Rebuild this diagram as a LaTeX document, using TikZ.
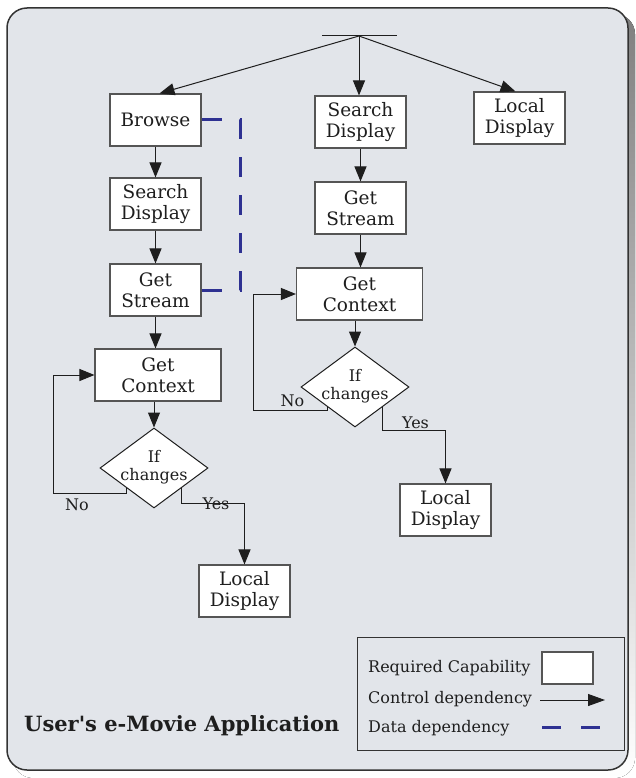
\documentclass[tikz,border=0pt]{standalone}
\usepackage{fontspec}
\setmainfont{DejaVu Serif}
\usetikzlibrary{shapes.geometric,arrows.meta}
\definecolor{panel}{HTML}{E2E5EA}
\definecolor{shade}{HTML}{7D868E}
\definecolor{frame}{HTML}{333333}
\definecolor{boxline}{HTML}{555555}
\definecolor{ink}{HTML}{1E1E1E}
\definecolor{datablue}{HTML}{2E3192}
\begin{document}
\begin{tikzpicture}[x=1pt,y=-1pt,
  capbox/.style={draw=boxline, line width=1.1pt, fill=white, minimum width=91pt,
    minimum height=52pt, inner sep=0pt, align=center, text=ink,
    font=\fontsize{18.5}{21}\selectfont},
  widebox/.style={capbox, minimum width=126pt},
  decision/.style={diamond, draw=ink, line width=1pt, fill=white, minimum width=108pt,
    minimum height=80pt, inner sep=0pt, text=ink, font=\fontsize{16}{18.5}\selectfont},
  ctl/.style={draw=ink, line width=1pt, -{Triangle[length=15pt,width=12pt]}},
  wire/.style={draw=ink, line width=1pt},
  datadep/.style={draw=datablue, line width=3pt, dash pattern=on 20pt off 18pt},
  tag/.style={text=ink, font=\fontsize{16}{18.5}\selectfont, inner sep=0pt},
]
\useasboundingbox (0,0) rectangle (635,778);

% panel with drop shadow
\fill[shade, rounded corners=20pt] (13,14) rectangle (635,778);
\draw[frame, fill=panel, line width=1.5pt, rounded corners=20pt] (7,8) rectangle (628,770);

% fork bar at the top
\coordinate (barL) at (322,36);
\coordinate (barR) at (397,36);
\coordinate (fan) at (359,36);
\draw[wire] (barL) -- (barR);

% left branch
\node[capbox] (browse) at (155.5,120) {Browse};
\node[capbox] (sd1) at (155.5,204) {Search\\Display};
\node[capbox] (gs1) at (155.5,290) {Get\\Stream};
\node[widebox] (gc1) at (158,375) {Get\\Context};
\node[decision] (d1) at (154,468) {\makebox[0pt]{\begin{tabular}{@{}c@{}}If\\changes\end{tabular}}};
\node[capbox] (ld2) at (244.5,591) {Local\\Display};

% middle branch
\node[capbox] (sd2) at (360.5,122) {Search\\Display};
\node[capbox] (gs2) at (360.5,208) {Get\\Stream};
\node[widebox] (gc2) at (359.5,294) {Get\\Context};
\node[decision] (d2) at (355,387) {\makebox[0pt]{\begin{tabular}{@{}c@{}}If\\changes\end{tabular}}};
\node[capbox] (ld3) at (445.5,510) {Local\\Display};

% right branch
\node[capbox] (ld1) at (519.5,118) {Local\\Display};

% control dependencies from the fork
\draw[ctl] (fan) -- ([xshift=4pt]browse.north);
\draw[ctl] (fan) -- (fan |- sd2.north);
\draw[ctl] (fan) -- ([xshift=-4pt]ld1.north);

% left chain
\draw[ctl] (browse) -- (sd1);
\draw[ctl] (sd1) -- (gs1);
\draw[ctl] (gs1.south) -- (gs1.south |- gc1.north);
\draw[ctl] (gc1.south -| d1.north) -- (d1.north);
\draw[ctl] (d1.south west) -- ++(0,5) -| ([xshift=-41pt]gc1.west) -- (gc1.west);
\draw[ctl] (d1.south east) -- ++(0,15) -| (ld2.north);
\node[tag] (no1) at (77,505) {No};
\node[tag] (yes1) at (216,504) {Yes};

% middle chain
\draw[ctl] (sd2) -- (gs2);
\draw[ctl] (gs2.south) -- (gs2.south |- gc2.north);
\draw[ctl] (gc2.south -| d2.north) -- (d2.north);
\draw[ctl] (d2.south west) -- ++(0,3) -| ([xshift=-42pt]gc2.west) -- (gc2.west);
\draw[ctl] (d2.south east) -- ++(0,23) -| (ld3.north);
\node[tag] (no2) at (292.5,401) {No};
\node[tag] (yes2) at (415.5,423) {Yes};

% data dependency between Browse and Get Stream
\draw[datadep] (browse.east) -- ++(39,0) |- (gs1.east);

% caption
\node[anchor=base west, inner sep=0pt, text=ink, font=\bfseries\fontsize{21}{24}\selectfont]
  (title) at (24,731) {User\textquotesingle s e-Movie Application};

% legend
\node[draw=frame, line width=1pt, minimum width=267pt, minimum height=113pt, inner sep=0pt]
  (legend) at (490.5,693.5) {};
\node[tag, anchor=base west] (lg1) at (368,672) {Required Capability};
\node[tag, anchor=base west] (lg2) at (368,703) {Control dependency};
\node[tag, anchor=base west] (lg3) at (368,732) {Data dependency};
\node[capbox, minimum width=51pt, minimum height=32pt] (sample) at (567.5,668) {};
\coordinate (ctlA) at (540,700);
\coordinate (ctlB) at (605,700);
\draw[ctl, -{Triangle[length=17pt,width=12pt]}] (ctlA) -- (ctlB);
\coordinate (dataA) at (542,727);
\coordinate (dataB) at (600,727);
\draw[draw=datablue, line width=3pt, dash pattern=on 19pt off 20pt] (dataA) -- (dataB);
\end{tikzpicture}
\end{document}
